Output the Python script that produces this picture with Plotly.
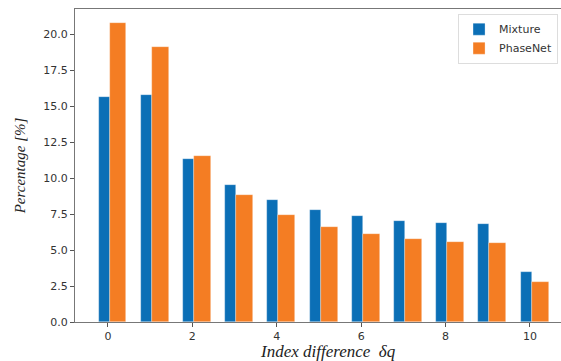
import plotly.graph_objects as go

index_diff = [0, 1, 2, 3, 4, 5, 6, 7, 8, 9, 10]
mixture = [15.65, 15.74, 11.3, 9.5, 8.45, 7.8, 7.35, 7.05, 6.85, 6.8, 3.45]
phasenet = [20.74, 19.07, 11.55, 8.85, 7.45, 6.6, 6.1, 5.75, 5.55, 5.5, 2.8]
y_ticks = [0, 2.5, 5, 7.5, 10, 12.5, 15, 17.5, 20]
x_ticks = [0, 2, 4, 6, 8, 10]

fig = go.Figure()
fig.add_trace(go.Bar(
    x=index_diff, y=mixture, name="Mixture", offset=-0.22, width=0.26,
    marker=dict(color="#0b6fb6", line=dict(width=0.6, color="rgba(255,255,255,0.5)")),
))
fig.add_trace(go.Bar(
    x=index_diff, y=phasenet, name="PhaseNet", offset=0.04, width=0.4,
    marker=dict(color="#f47d23", line=dict(width=0.6, color="rgba(255,255,255,0.5)")),
))

fig.update_layout(
    width=581, height=361,
    margin=dict(l=75, r=0, t=9, b=39, autoexpand=False),
    plot_bgcolor="white", paper_bgcolor="white",
    font=dict(family="DejaVu Sans", size=11, color="#333"),
    showlegend=True,
    legend=dict(
        x=0.757, y=0.985, xanchor="left", yanchor="top",
        bgcolor="white", bordercolor="#dddddd", borderwidth=1,
        font=dict(family="DejaVu Sans", size=11, color="#333"),
    ),
    bargap=0,
)
fig.add_annotation(
    text="Index difference\u00a0\u00a0δq", xref="paper", yref="paper",
    x=0.5, y=0, xanchor="center", yanchor="top", yshift=-18, showarrow=False,
    font=dict(family="Liberation Serif", size=17, color="#222", style="italic"),
)
fig.update_xaxes(
    range=[-0.78, 11.21], tickmode="array", tickvals=x_ticks,
    ticktext=[str(v) for v in x_ticks],
    showline=True, linecolor="#777", linewidth=1.2, mirror=True,
    ticks="outside", ticklen=4, tickcolor="#555",
    showgrid=False, zeroline=False, automargin=False,
)
fig.update_yaxes(
    range=[0, 21.74], tickmode="array", tickvals=y_ticks,
    ticktext=[f"{v:.1f}" for v in y_ticks],
    showline=True, linecolor="#777", linewidth=1.2,
    ticks="outside", ticklen=4, tickcolor="#555",
    showgrid=False, zeroline=False, automargin=False,
    title=dict(text="Percentage [%]", standoff=13,
               font=dict(family="Liberation Serif", size=15, color="#222", style="italic")),
)

fig.write_html("out.html", config={"displayModeBar": False},
               post_script="document.body.style.margin='0';document.body.style.overflow='hidden';")
